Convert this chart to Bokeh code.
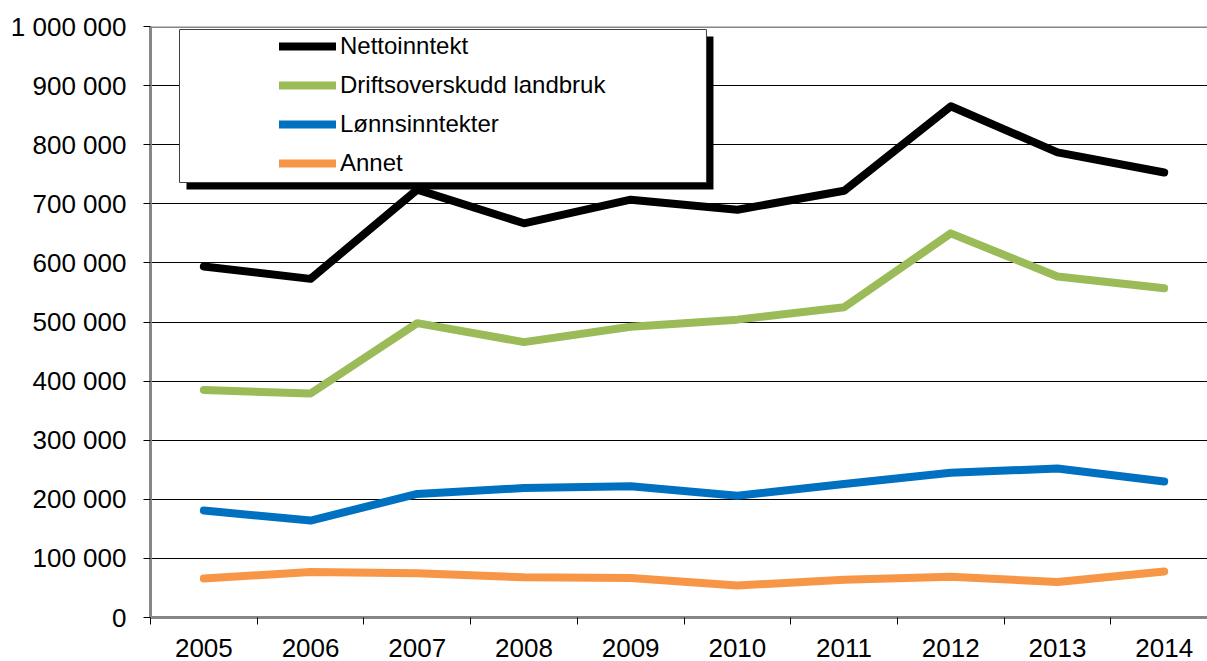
from bokeh.plotting import figure
from bokeh.models import (FixedTicker, Legend, LegendItem, BoxAnnotation, Span)
from bokeh.embed import file_html
from bokeh.resources import INLINE

years = ["2005", "2006", "2007", "2008", "2009", "2010", "2011", "2012", "2013", "2014"]
netto = [594000, 573000, 724000, 667000, 707000, 690000, 722000, 865000, 787000, 753000]
drift = [385000, 379000, 498000, 466000, 492000, 504000, 525000, 650000, 577000, 557000]
lonn = [181000, 164000, 209000, 219000, 222000, 206000, 226000, 245000, 252000, 230000]
annet = [66000, 77000, 75000, 68000, 67000, 54000, 64000, 69000, 60000, 78000]

y_ticks = [0, 100000, 200000, 300000, 400000, 500000, 600000, 700000, 800000, 900000, 1000000]
y_tick_labels = ["0", "100 000", "200 000", "300 000", "400 000", "500 000",
                 "600 000", "700 000", "800 000", "900 000", "1 000 000"]

series_names = ["Nettoinntekt", "Driftsoverskudd landbruk", "Lønnsinntekter", "Annet"]
series_colors = ["#000000", "#9BBB59", "#0070C0", "#F79646"]

xs = list(range(len(years)))
FONT = "Liberation Sans"

p = figure(width=1207, height=661, output_backend="svg", toolbar_location=None,
           x_range=(-0.5, 9.406), y_range=(0, 1000000),
           min_border_left=150, min_border_right=0, min_border_top=26, min_border_bottom=44)
p.outline_line_color = None
p.background_fill_color = "white"
p.border_fill_color = "white"

# grid
p.xgrid.grid_line_color = None
p.ygrid.ticker = FixedTicker(ticks=y_ticks)
p.ygrid.grid_line_color = "#000000"
p.ygrid.grid_line_width = 1

# y axis
p.yaxis.ticker = FixedTicker(ticks=y_ticks)
p.yaxis.major_label_overrides = {t: l for t, l in zip(y_ticks, y_tick_labels)}
p.yaxis.major_label_text_font = FONT
p.yaxis.major_label_text_font_size = "26px"
p.yaxis.major_label_text_color = "#000000"
p.yaxis.major_label_standoff = 17
p.yaxis.major_tick_out = 7
p.yaxis.major_tick_in = 0
p.yaxis.major_tick_line_color = "#000000"
p.yaxis.minor_tick_line_color = None
p.yaxis.axis_line_color = "#868686"
p.yaxis.axis_line_width = 3

# x axis
p.xaxis.ticker = FixedTicker(ticks=xs, minor_ticks=[i - 0.5 for i in xs] + [len(xs) - 0.5])
p.xaxis.major_label_overrides = {i: y for i, y in zip(xs, years)}
p.xaxis.major_label_text_font = FONT
p.xaxis.major_label_text_font_size = "26px"
p.xaxis.major_label_text_color = "#000000"
p.xaxis.major_label_standoff = 14
p.xaxis.major_tick_out = 0
p.xaxis.major_tick_in = 0
p.xaxis.major_tick_line_color = None
p.xaxis.minor_tick_out = 7
p.xaxis.minor_tick_in = 0
p.xaxis.minor_tick_line_color = "#000000"
p.xaxis.axis_line_color = "#868686"
p.xaxis.axis_line_width = 3

# top border
p.add_layout(Span(location=1000000, dimension="width", line_color="#868686", line_width=3))

renderers = []
for vals, color in zip([netto, drift, lonn, annet], series_colors):
    r = p.line(xs, vals, line_color=color, line_width=8, line_cap="round", line_join="round")
    renderers.append(r)

# legend frame with shadow
p.add_layout(BoxAnnotation(left=-0.1626, right=4.776, top=983080, bottom=724196,
                           fill_color="#000000", fill_alpha=1.0, line_color=None))
p.add_layout(BoxAnnotation(left=-0.2282, right=4.7103, top=994924, bottom=736041,
                           fill_color="#FFFFFF", fill_alpha=1.0, line_color="#404040",
                           line_width=1, line_alpha=1.0))

items = [LegendItem(label=n, renderers=[r]) for n, r in zip(series_names, renderers)]
legend = Legend(items=items, location=(129, 439), padding=0, margin=0,
                spacing=9, glyph_width=57, glyph_height=30, label_height=30,
                label_standoff=4, label_text_font=FONT, label_text_font_size="24px",
                label_text_color="#000000", border_line_color=None,
                background_fill_alpha=0.0)
p.add_layout(legend)

open("out.html", "w").write(file_html(p, INLINE))
